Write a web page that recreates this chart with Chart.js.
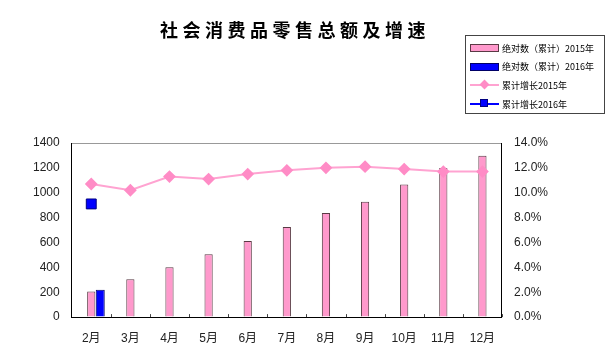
<!DOCTYPE html>
<html>
<head>
<meta charset="utf-8">
<script src="https://cdn.jsdelivr.net/npm/chart.js@4"></script>
<style>
  body { margin: 0; background: #fff; }
  #wrap { position: relative; width: 611px; height: 361px; }
  #title {
    position: absolute; left: 0; top: 16px; width: 590px; text-align: center;
    font: bold 18px "Noto Sans CJK SC", sans-serif; letter-spacing: 4.5px; color: #000;
  }
  #legend {
    position: absolute; left: 465px; top: 35px; width: 140px; height: 79px;
    border: 1px solid #444; box-sizing: border-box;
    font: 9px "Noto Sans CJK SC", sans-serif; color: #000;
  }
  .row { position: absolute; left: 4px; height: 12px; display: flex; align-items: center; }
  .sym { position: relative; width: 29px; height: 12px; margin-right: 3px; }
</style>
</head>
<body>
<div id="wrap">
  <canvas id="c" width="611" height="361"></canvas>
  <div id="title">社会消费品零售总额及增速</div>
  <div id="legend"></div>
</div>
<script>
// data
const months = ['2月', '3月', '4月', '5月', '6月', '7月', '8月', '9月', '10月', '11月', '12月'];
const total2015 = [205, 305, 400, 505, 612, 725, 838, 927, 1067, 1198, 1298];
const total2016 = [220, null, null, null, null, null, null, null, null, null, null];
const growth2015 = [10.7, 10.2, 11.3, 11.1, 11.5, 11.8, 12.0, 12.1, 11.9, 11.7, 11.7];
const growth2016 = [9.1, null, null, null, null, null, null, null, null, null, null];
const seriesNames = ['绝对数（累计）2015年', '绝对数（累计）2016年', '累计增长2015年', '累计增长2016年'];

const pink = '#FF99CC';
const pinkLine = '#FFA3D1';
const blue = '#0000FF';

// small inward ticks between categories on the x axis
const innerTicks = {
  id: 'innerTicks',
  afterDraw(chart) {
    const x = chart.scales.x, a = chart.chartArea, ctx = chart.ctx;
    ctx.save();
    ctx.strokeStyle = '#444';
    ctx.lineWidth = 1;
    for (let i = 1; i <= months.length; i++) {
      const p = i < months.length
        ? (x.getPixelForTick(i) + x.getPixelForTick(i - 1)) / 2
        : x.getPixelForTick(i - 1) + (x.getPixelForTick(i - 1) - x.getPixelForTick(i - 2)) / 2;
      ctx.beginPath();
      ctx.moveTo(Math.round(p) + 0.5, a.bottom);
      ctx.lineTo(Math.round(p) + 0.5, a.bottom - 3);
      ctx.stroke();
    }
    ctx.restore();
  }
};

const chart = new Chart(document.getElementById('c'), {
  type: 'bar',
  data: {
    labels: months,
    datasets: [
      {
        label: seriesNames[0], data: total2015, yAxisID: 'y', order: 2, stack: 'p',
        grouped: false, categoryPercentage: 1, barPercentage: 0.21,
        backgroundColor: pink, borderColor: '#5a3a44', borderWidth: 1
      },
      {
        // empty slot so the 2016 bar sits right of the category centre
        label: 'spacer', data: months.map(() => null), yAxisID: 'y', order: 2, stack: 'a',
        categoryPercentage: 0.92, barPercentage: 0.5
      },
      {
        label: seriesNames[1], data: total2016, yAxisID: 'y', order: 2, stack: 'b',
        categoryPercentage: 0.92, barPercentage: 0.5,
        backgroundColor: blue, borderColor: '#000066', borderWidth: 1
      },
      {
        type: 'line', label: seriesNames[2], data: growth2015, yAxisID: 'y1', order: 1,
        borderColor: pinkLine, borderWidth: 2, tension: 0,
        pointStyle: 'rectRot', pointRadius: 5, pointBackgroundColor: '#FF8CC6', pointBorderColor: '#FF8CC6'
      },
      {
        type: 'line', label: seriesNames[3], data: growth2016, yAxisID: 'y1', order: 1,
        borderColor: blue, borderWidth: 2,
        pointStyle: 'rect', pointRadius: 7, pointBackgroundColor: blue, pointBorderColor: '#000080', pointBorderWidth: 1
      }
    ]
  },
  options: {
    responsive: false,
    animation: false,
    layout: { padding: { top: 143, left: 21, right: 51, bottom: 9.5 } },
    plugins: { legend: { display: false }, tooltip: { enabled: false } },
    scales: {
      x: {
        grid: { display: false },
        border: { color: '#000', width: 1 },
        ticks: { padding: 6, color: '#222', font: { family: 'Liberation Sans, Noto Sans CJK SC', size: 12 } }
      },
      y: {
        position: 'left', min: 0, max: 1400,
        ticks: {
          stepSize: 200, padding: 12, color: '#222', font: { family: 'Liberation Sans', size: 12 },
          callback: v => String(v)
        },
        grid: {
          drawTicks: false,
          color: c => (c.tick && c.tick.value === 1400 ? '#999' : 'rgba(0,0,0,0)')
        },
        border: { color: '#000', width: 1 }
      },
      y1: {
        position: 'right', min: 0, max: 14,
        ticks: {
          stepSize: 2, padding: 12, color: '#222', font: { family: 'Liberation Sans', size: 12 },
          callback: v => v.toFixed(1) + '%'
        },
        grid: { display: false, drawTicks: false },
        border: { color: '#000', width: 1 }
      }
    }
  },
  plugins: [innerTicks]
});

// legend built from the datasets
const legend = document.getElementById('legend');
const legendSets = [0, 2, 3, 4].map(i => chart.data.datasets[i]);
legendSets.forEach((ds, k) => {
  const row = document.createElement('div');
  row.className = 'row';
  row.style.top = (6 + k * 18.7) + 'px';
  const sym = document.createElement('div');
  sym.className = 'sym';
  if (ds.type === 'line') {
    const line = document.createElement('div');
    line.style.cssText = 'position:absolute;left:0;top:5px;width:29px;height:2px;background:' + ds.borderColor;
    sym.appendChild(line);
    const m = document.createElement('div');
    if (ds.pointStyle === 'rectRot') {
      m.style.cssText = 'position:absolute;left:11px;top:2px;width:7px;height:7px;transform:rotate(45deg);background:' + ds.pointBackgroundColor;
    } else {
      m.style.cssText = 'position:absolute;left:10px;top:1px;width:8px;height:8px;box-sizing:border-box;border:1px solid #000080;background:' + ds.pointBackgroundColor;
    }
    sym.appendChild(m);
  } else {
    const b = document.createElement('div');
    b.style.cssText = 'position:absolute;left:0;top:2px;width:29px;height:8px;box-sizing:border-box;border:1px solid ' + ds.borderColor + ';background:' + ds.backgroundColor;
    sym.appendChild(b);
  }
  row.appendChild(sym);
  const t = document.createElement('span');
  t.textContent = ds.label;
  row.appendChild(t);
  legend.appendChild(row);
});
</script>
</body>
</html>
